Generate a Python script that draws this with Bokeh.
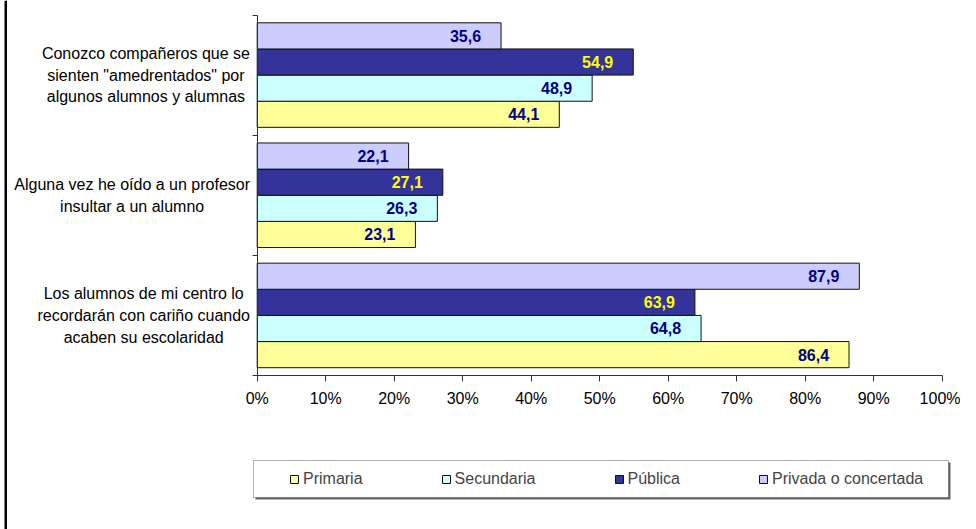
from bokeh.plotting import figure
from bokeh.models import Range1d, FixedTicker, Label, BoxAnnotation, Legend, LegendItem, ColumnDataSource
from bokeh.core.properties import value
from bokeh.embed import file_html
from bokeh.resources import INLINE

# ---------------- data ----------------
categories = [
    'Conozco compañeros que se\nsienten "amedrentados" por\nalgunos alumnos y alumnas',
    'Alguna vez he oído a un profesor\ninsultar a un alumno',
    'Los alumnos de mi centro lo\nrecordarán con cariño cuando\nacaben su escolaridad',
]
series_names = ["Primaria", "Secundaria", "Pública", "Privada o concertada"]
primaria = [44.1, 23.1, 86.4]
secundaria = [48.9, 26.3, 64.8]
publica = [54.9, 27.1, 63.9]
privada = [35.6, 22.1, 87.9]
x_ticks = [0, 10, 20, 30, 40, 50, 60, 70, 80, 90, 100]
x_tick_labels = ["0%", "10%", "20%", "30%", "40%", "50%", "60%", "70%", "80%", "90%", "100%"]

series_values = [primaria, secundaria, publica, privada]

# ---------------- layout / style ----------------
FONT = "Liberation Sans"
bar_colors = ["#FFFF99", "#CCFFFF", "#333399", "#CCCCFF"]
label_colors = ["#000080", "#000080", "#FFFF00", "#000080"]

W, H = 960, 529
X0_PX, X100_PX = 256.7, 941.7      # pixel columns of 0% and 100%
Y0_PX, YTOP_PX = 375.0, 14.5       # pixel rows of the bottom and top of the category axis
n = len(categories)
ppx = (X100_PX - X0_PX) / 100.0
ppy = (Y0_PX - YTOP_PX) / n


def px_to_x(px):
    return (px - X0_PX) / ppx


def px_to_y(py):
    return (Y0_PX - py) / ppy


p = figure(width=W, height=H, output_backend="svg", toolbar_location=None,
           x_range=Range1d(px_to_x(0), px_to_x(W)),
           y_range=Range1d(px_to_y(H), px_to_y(0)),
           min_border=0, min_border_left=0, min_border_right=0,
           min_border_top=0, min_border_bottom=0)
p.background_fill_color = "white"
p.border_fill_color = "white"
p.outline_line_color = None
p.xgrid.visible = False
p.ygrid.visible = False

# x axis (value axis)
p.xaxis.fixed_location = 0
p.xaxis.bounds = (0, 100)
p.xaxis.ticker = FixedTicker(ticks=x_ticks, minor_ticks=[])
p.xaxis.major_label_overrides = {t: l for t, l in zip(x_ticks, x_tick_labels)}
p.xaxis.axis_line_color = "#333333"
p.xaxis.major_tick_line_color = "#333333"
p.xaxis.major_tick_out = 6
p.xaxis.major_tick_in = 0
p.xaxis.minor_tick_line_color = None
p.xaxis.major_label_standoff = 8
p.xaxis.major_label_text_font = FONT
p.xaxis.major_label_text_font_size = "16px"
p.xaxis.major_label_text_color = "black"

# y axis (category axis): ticks at category boundaries, labels drawn separately
p.yaxis.fixed_location = 0
p.yaxis.bounds = (0, n)
p.yaxis.ticker = FixedTicker(ticks=list(range(n + 1)), minor_ticks=[])
p.yaxis.axis_line_color = "#333333"
p.yaxis.major_tick_line_color = "#333333"
p.yaxis.major_tick_out = 5
p.yaxis.major_tick_in = 0
p.yaxis.minor_tick_line_color = None
p.yaxis.major_label_text_font_size = "0px"
p.yaxis.major_label_text_alpha = 0

# bars + value labels
bar_h = 0.2175
gap = (1 - len(series_names) * bar_h) / 2
items = []
for j, (name, vals) in enumerate(zip(series_names, series_values)):
    ys = [(n - 1 - i) + gap + bar_h * (j + 0.5) for i in range(n)]
    src = ColumnDataSource(dict(y=ys, right=vals,
                                txt=[f"{v:.1f}".replace(".", ",") for v in vals]))
    r = p.hbar(y="y", left=0, right="right", height=bar_h, source=src,
               fill_color=bar_colors[j], line_color="#111111", line_width=1)
    p.text(x="right", y="y", text="txt", source=src, text_align="right",
           text_baseline="middle", x_offset=-20, text_font=value(FONT),
           text_font_size="16px", text_font_style="bold", text_color=label_colors[j])
    items.append(LegendItem(label=name, renderers=[r]))

# category labels: block right-aligned near the axis, lines centred
for i, cat in enumerate(categories):
    p.add_layout(Label(x=px_to_x(249.5), y=(n - 1 - i) + 0.5, text=cat,
                       anchor="center_right", text_align="center", text_baseline="middle",
                       text_font=FONT, text_font_size="16px", text_color="black",
                       text_line_height=1.28))

# legend frame (with a thin shadow)
p.add_layout(BoxAnnotation(left=px_to_x(255), right=px_to_x(950),
                           top=px_to_y(462), bottom=px_to_y(499),
                           fill_color="#666666", fill_alpha=1, line_color=None))
p.add_layout(BoxAnnotation(left=px_to_x(253), right=px_to_x(948),
                           top=px_to_y(460), bottom=px_to_y(497),
                           fill_color="white", fill_alpha=1,
                           line_color="black", line_width=1))

# legend
legend = Legend(items=items, orientation="horizontal", location=(289, H - 478.5 - 9),
                padding=0, margin=0, spacing=78, glyph_width=10, glyph_height=10,
                label_standoff=4, label_text_font=FONT, label_text_font_size="16px",
                label_height=18, border_line_color=None, background_fill_alpha=0)
p.add_layout(legend, "center")

# outer chart border (left edge)
p.add_layout(BoxAnnotation(left=px_to_x(4), right=px_to_x(6.5),
                           fill_color="black", fill_alpha=1, line_color=None))

open("out.html", "w").write(file_html(p, INLINE))
